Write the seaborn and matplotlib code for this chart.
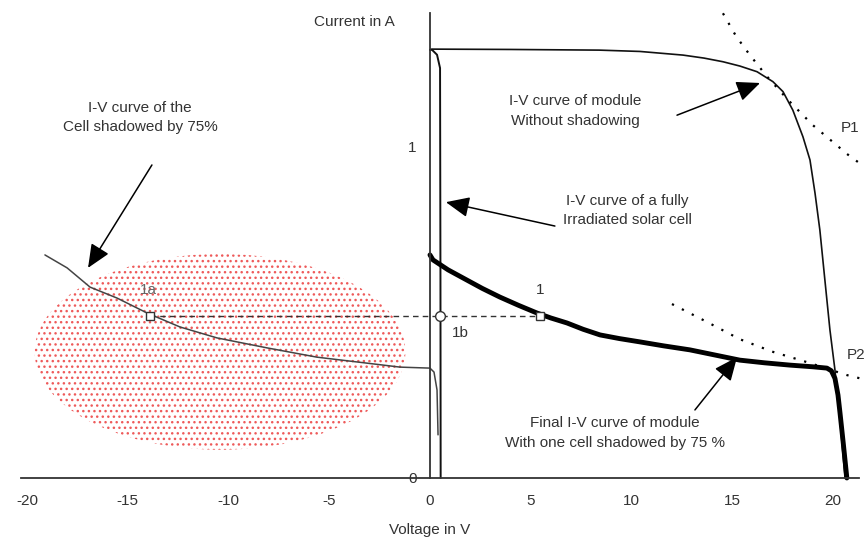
import numpy as np
import pandas as pd
import seaborn as sns
import matplotlib.pyplot as plt
from matplotlib.patches import Ellipse
from matplotlib.ticker import FixedLocator

# I-V curve of the module without shadowing (V, A)
module_v = [0.0, 0.1, 4.0, 8.4, 10.42, 12.56, 13.6, 14.54, 15.38, 16.23, 17.02, 17.52, 18.01,
            18.51, 18.86, 19.11, 19.35, 19.60, 19.85, 20.10, 20.35, 20.60]
module_i = [1.29, 1.292, 1.291, 1.289, 1.285, 1.274, 1.265, 1.254, 1.241, 1.224, 1.194, 1.164, 1.108,
            1.028, 0.958, 0.858, 0.747, 0.596, 0.446, 0.325, 0.175, 0.0]

# fully irradiated single cell
cell_v = [0.0, 0.1, 0.35, 0.5, 0.52, 0.53]
cell_i = [1.29, 1.29, 1.275, 1.235, 0.6, 0.0]

# cell shadowed by 75 %
shaded_v = [-19.11, -18.01, -16.87, -15.53, -14.04, -12.41, -10.57, -8.09, -5.61, -3.13, -1.49, 0.0, 0.2, 0.35, 0.4]
shaded_i = [0.672, 0.633, 0.575, 0.542, 0.497, 0.455, 0.422, 0.392, 0.364, 0.346, 0.334, 0.331, 0.319, 0.265, 0.13]

# final module curve with one shadowed cell
final_v = [0.0, 0.15, 0.9, 1.84, 2.6, 3.47, 4.4, 5.31, 6.0, 6.80, 7.6, 8.44, 9.4, 10.42, 11.6, 12.90,
           14.1, 15.38, 16.6, 17.87, 19.0, 19.70, 19.92, 20.10, 20.25, 20.35, 20.52, 20.69]
final_i = [0.672, 0.657, 0.627, 0.596, 0.571, 0.545, 0.520, 0.497, 0.482, 0.467, 0.448, 0.431, 0.420, 0.410,
           0.398, 0.386, 0.371, 0.355, 0.347, 0.340, 0.335, 0.331, 0.323, 0.300, 0.250, 0.196, 0.100, 0.0]

# constant power lines P1 and P2
p1_v = [14.54, 15.2, 15.88, 16.72, 17.77, 19.0, 20.0, 20.7, 21.44]
p1_i = [1.40, 1.33, 1.274, 1.21, 1.139, 1.063, 1.012, 0.976, 0.943]
p2_v = [12.01, 13.75, 15.38, 17.02, 18.71, 20.69, 21.69]
p2_i = [0.524, 0.470, 0.418, 0.380, 0.349, 0.310, 0.295]

# working points 1a, 1b, 1
op_current = 0.488
op_v = {'1a': -13.9, '1b': 0.5, '1': 5.46}

x_ticks = [-20, -15, -10, -5, 0, 5, 10, 15, 20]
y_ticks = [0, 1]

sns.set_style('white')
plt.rcParams['font.family'] = ['Liberation Sans', 'DejaVu Sans']
plt.rcParams['axes.unicode_minus'] = False

fig = plt.figure(figsize=(8.66, 5.53), dpi=100)
ax = fig.add_axes([0, 0, 1, 1])
ax.set_xlim(-21.34, 21.64)
ax.set_ylim(-0.226, 1.44)

# shaded region (red dotted ellipse)
ell = Ellipse((-10.42, 0.38), 18.4, 0.59, facecolor='none', edgecolor='#ee5a5a',
              hatch='...', lw=0, zorder=0)
ax.add_patch(ell)

sns.lineplot(x=shaded_v, y=shaded_i, sort=False, estimator=None, ax=ax, color='#444444', lw=1.1)
sns.lineplot(x=module_v, y=module_i, sort=False, estimator=None, ax=ax, color='#111111', lw=1.2)
sns.lineplot(x=cell_v, y=cell_i, sort=False, estimator=None, ax=ax, color='#111111', lw=1.4)
sns.lineplot(x=final_v, y=final_i, sort=False, estimator=None, ax=ax, color='black', lw=3.5)
sns.lineplot(x=p1_v, y=p1_i, sort=False, estimator=None, ax=ax, color='black', lw=1.6, ls=(0, (1, 4)))
sns.lineplot(x=p2_v, y=p2_i, sort=False, estimator=None, ax=ax, color='black', lw=1.6, ls=(0, (1, 4)))

ax.plot([op_v['1a'], op_v['1']], [op_current, op_current], color='#333333', lw=1, ls=(0, (4, 3)))
ax.plot(op_v['1a'], op_current, 's', mfc='white', mec='#333333', ms=6, mew=1)
ax.plot(op_v['1b'], op_current, 'o', mfc='white', mec='#333333', ms=7, mew=1)
ax.plot(op_v['1'], op_current, 's', mfc='white', mec='#333333', ms=6, mew=1)

txt = dict(color='#333333', fontsize=11)
ax.text(-13.99, 0.566, '1a', ha='center', va='center', color='#666666', fontsize=11)
ax.text(5.46, 0.566, '1', ha='center', va='center', **txt)
ax.text(1.49, 0.437, '1b', ha='center', va='center', **txt)
ax.text(20.84, 1.054, 'P1', ha='center', va='center', **txt)
ax.text(20.7, 0.37, 'P2', ha='left', va='center', **txt)

ax.text(-14.39, 1.086, 'I-V curve of the\nCell shadowed by 75%', ha='center', va='center', linespacing=1.5, **txt)
ax.text(7.2, 1.105, 'I-V curve of module\nWithout shadowing', ha='center', va='center', linespacing=1.5, **txt)
ax.text(9.78, 0.806, 'I-V curve of a fully\nIrradiated solar cell', ha='center', va='center', linespacing=1.5, **txt)
ax.text(9.18, 0.136, 'Final I-V curve of module\nWith one cell shadowed by 75 %', ha='center', va='center', linespacing=1.5, **txt)

arrow = dict(arrowstyle='-|>,head_length=0.8,head_width=0.35', color='black', lw=1.1,
             mutation_scale=18, shrinkA=0, shrinkB=0)
ax.annotate('', xy=(-16.97, 0.633), xytext=(-13.8, 0.943), arrowprops=arrow)
ax.annotate('', xy=(16.38, 1.19), xytext=(12.26, 1.093), arrowprops=arrow)
ax.annotate('', xy=(0.79, 0.831), xytext=(6.2, 0.759), arrowprops=arrow)
ax.annotate('', xy=(15.24, 0.364), xytext=(13.15, 0.205), arrowprops=arrow)

ax.text(-1.74, 1.373, 'Current in A', ha='right', va='center', **txt)
ax.text(0.0, -0.157, 'Voltage in V', ha='center', va='center', **txt)

# axes crossing at the origin
for side in ['top', 'right']:
    ax.spines[side].set_visible(False)
ax.spines['left'].set_position(('data', 0))
ax.spines['bottom'].set_position(('data', 0))
ax.spines['left'].set_bounds(0, 1.4)
ax.spines['bottom'].set_bounds(-20.3, 21.3)
for side in ['left', 'bottom']:
    ax.spines[side].set_color('#333333')
    ax.spines[side].set_linewidth(1.3)

ax.xaxis.set_major_locator(FixedLocator(x_ticks))
ax.xaxis.set_minor_locator(FixedLocator(np.arange(-20, 22)))
ax.yaxis.set_major_locator(FixedLocator(y_ticks))
ax.yaxis.set_minor_locator(FixedLocator(np.round(np.arange(0, 1.41, 0.1), 1)))
ax.set_xticklabels([str(t) for t in x_ticks])
ax.set_yticklabels([str(t) for t in y_ticks])
ax.tick_params(axis='both', which='major', direction='inout', length=11, width=1.2,
               color='#333333', labelsize=11, labelcolor='#333333')
ax.tick_params(axis='both', which='minor', direction='out', length=5, width=1.1, color='#333333')
ax.tick_params(axis='x', which='major', pad=6)
ax.tick_params(axis='y', which='major', pad=4)
ax.grid(False)

fig.savefig('out.png', dpi=100)
